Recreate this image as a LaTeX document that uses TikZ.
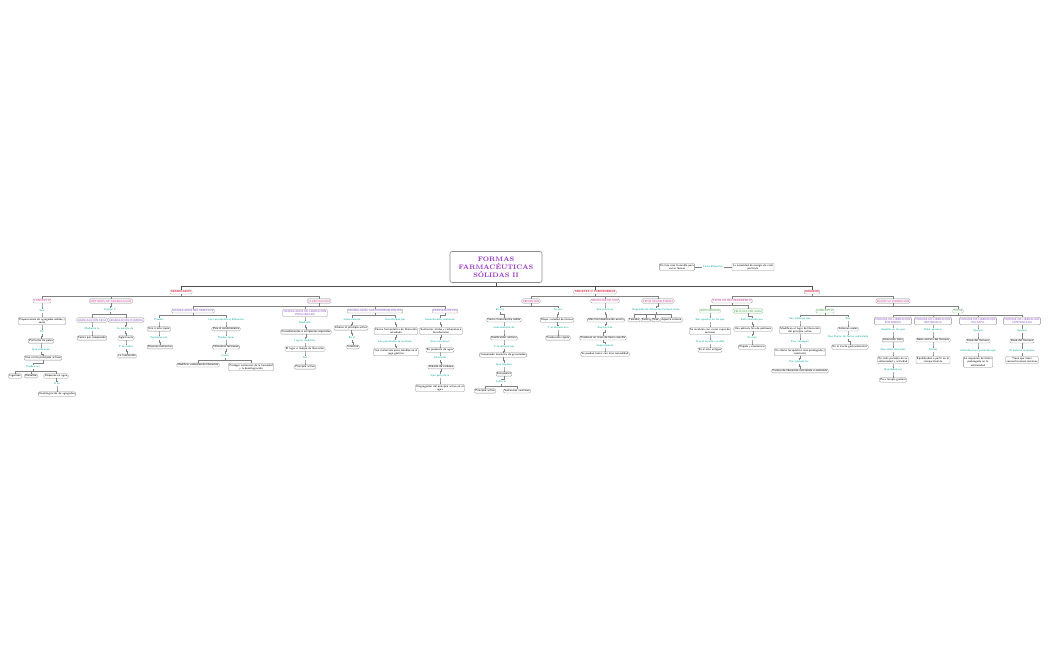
\documentclass[tikz,border=0pt]{standalone}
\usetikzlibrary{positioning}
\definecolor{titlepurple}{RGB}{150,50,190}
\definecolor{headred}{RGB}{225,30,60}
\definecolor{catpink}{RGB}{215,40,145}
\definecolor{subviolet}{RGB}{135,70,200}
\definecolor{linkteal}{RGB}{0,165,155}
\definecolor{typegreen}{RGB}{60,150,60}
\newcommand{\branch}[3][2.5]{\draw[conn] (#2.south) -- ++(0,#1) -| (#3.north);}
\begin{document}
\begin{tikzpicture}[x=1pt,y=-1pt,
	conn/.style={draw=black!50,line width=0.25pt},
	mainconn/.style={draw=black!70,line width=0.6pt},
	sm/.style={font=\sffamily\fontsize{2.8}{3.3}\selectfont},
	box/.style={sm,draw=black!45,rounded corners=1pt,line width=0.3pt,inner sep=0.9pt,fill=white,align=center},
	head/.style={box,text=headred,font=\sffamily\bfseries\fontsize{2.8}{3.3}\selectfont},
	cat/.style={box,text=catpink},
	sub/.style={box,text=subviolet},
	kind/.style={box,text=typegreen,draw=typegreen!60},
	lbl/.style={sm,text=linkteal,inner sep=0.6pt,align=center},
	title/.style={draw=black!45,rounded corners=2pt,line width=0.6pt,fill=white,minimum width=92pt,minimum height=31pt,align=center,text=titlepurple,font=\bfseries\fontsize{6.5}{8}\selectfont}]
	\useasboundingbox (0,0) rectangle (1050,650);

	\node[title] (title) at (496,267) {FORMAS\\FARMACÉUTICAS\\SÓLIDAS II};
	\node[box] (fases) at (677,267) {En fase más favorable para\\varias formas};
	\node[lbl] (lfases) at (713,267) {Fases diferentes};
	\node[box] (energia) at (753,267) {La necesidad de energía de cada\\partícula};
	\draw[conn] (fases) -- (lfases) -- (energia);

	\node[head] (gran) at (181,292) {GRANULADOS};
	\node[head] (tab) at (595,292) {TABLETAS O COMPRIMIDOS};
	\node[head] (grag) at (812,292) {GRAGEAS};
	\foreach \h in {gran,tab,grag} \draw[mainconn] (title.south) -- ++(0,3) -| (\h.north);

	\node[cat] (conc) at (42,301) {CONCEPTO};
	\node[cat] (metodos) at (111,301) {MÉTODOS DE GRANULACIÓN};
	\node[cat] (clasif) at (319,301) {CLASIFICACIÓN};
	\foreach \c in {conc,metodos,clasif} {\branch{gran}{\c}}

	\node[lbl] (lson) at (42,311) {Son};
	\node[box] (prep) at (42,321) {Preparaciones de agregados sólidos y\\secos};
	\node[lbl] (lde) at (42,332) {De};
	\node[box] (polvo) at (41,341) {Partículas de polvo};
	\node[lbl] (lcontienen) at (41,350) {Que contienen};
	\node[box] (activos) at (43,358) {Uno o más principios activos};
	\node[lbl] (lpueden) at (33,367) {Pueden ser};
	\node[box] (ingeridos) at (15,376) {Ingeridos};
	\node[box] (disueltos) at (31,376) {Disueltos};
	\node[box] (dispersos) at (56,376) {Dispersos en agua};
	\node[lbl] (loen) at (57,384) {O en};
	\node[box] (desint) at (57,394) {Desintegración de agregados};
	\branch{conc}{lson} \branch{lson}{prep} \branch{prep}{lde} \branch{lde}{polvo}
	\branch{polvo}{lcontienen} \branch{lcontienen}{activos} \branch{activos}{lpueden}
	\foreach \c in {ingeridos,disueltos,dispersos} {\branch{lpueden}{\c}}
	\branch{dispersos}{loen} \branch{loen}{desint}

	\node[lbl] (lexisten) at (110,310) {Existen 2};
	\node[sub] (seca) at (92,320) {GRANULACIÓN SECA};
	\node[sub] (humeda) at (126,320) {GRANULACIÓN HÚMEDA};
	\node[lbl] (lmediante) at (92,329) {Mediante la};
	\node[box] (compres) at (92,338) {Forma por compresión};
	\node[lbl] (lmezcla) at (125,329) {La mezcla de};
	\node[box] (aglut) at (126,338) {Aglutinante};
	\node[lbl] (lrealiza) at (126,347) {Y se realiza};
	\node[box] (tamiz) at (127,356) {La tamización};
	\branch{metodos}{lexisten} \branch{lexisten}{seca} \branch{lexisten}{humeda}
	\branch{seca}{lmediante} \branch{lmediante}{compres}
	\branch{humeda}{lmezcla} \branch{lmezcla}{aglut} \branch{aglut}{lrealiza} \branch{lrealiza}{tamiz}

	\node[sub] (recub) at (193,311) {GRANULADOS RECUBIERTOS};
	\node[sub] (prolong) at (305,313) {GRANULADOS DE LIBERACIÓN\\PROLONGADA};
	\node[sub] (gastro) at (375,311) {GRANULADOS GASTRORRESISTENTES};
	\node[sub] (eferv) at (445,311) {EFERVESCENTES};
	\foreach \c in {recub,prolong,gastro,eferv} {\branch{clasif}{\c}}

	\node[lbl] (lpuedenr) at (159,320) {Pueden};
	\node[box] (capas) at (159,329) {Una o más capas};
	\node[lbl] (lformadas) at (159,338) {Formadas por};
	\node[box] (diversas) at (160,347) {Diversas sustancias};
	\node[lbl] (lcaract) at (226,320) {Las características diferentes};
	\node[box] (pararec) at (226,329) {Para el recubrimiento};
	\node[lbl] (ltener) at (226,338) {Pueden tener};
	\node[box] (funciones) at (226,347) {Diferentes funciones};
	\node[lbl] (lcomo) at (225,356) {Como};
	\node[box] (modvel) at (198,365) {Modificar velocidad de liberación};
	\node[box] (proteger) at (251,367) {Proteger sustancias de la humedad\\y la desintegración};
	\branch{recub}{lpuedenr} \branch{recub}{lcaract}
	\branch{lpuedenr}{capas} \branch{capas}{lformadas} \branch{lformadas}{diversas}
	\branch{lcaract}{pararec} \branch{pararec}{ltener} \branch{ltener}{funciones} \branch{funciones}{lcomo}
	\branch{lcomo}{modvel} \branch{lcomo}{proteger}

	\node[lbl] (lmedp) at (305,323) {Mediante};
	\node[box] (proced) at (306,332) {Procedimientos o excipientes especiales};
	\node[lbl] (llogran) at (305,341) {Logran modificar};
	\node[box] (lugar) at (305,349) {El lugar o tiempo de liberación};
	\node[lbl] (ldel) at (305,358) {Del};
	\node[box] (pactivo) at (305,367) {Principio activo};
	\branch{prolong}{lmedp} \branch{lmedp}{proced} \branch{proced}{llogran}
	\branch{llogran}{lugar} \branch{lugar}{ldel} \branch{ldel}{pactivo}

	\node[lbl] (lgeneral) at (352,320) {Generalmente};
	\node[box] (liberan) at (351,328) {Liberan el principio activo};
	\node[lbl] (lenel) at (352,338) {En el};
	\node[box] (intestino) at (353,347) {Intestino};
	\node[lbl] (lconst) at (395,320) {Constituidos por};
	\node[box] (retard) at (396,331) {Forma farmacéutica de liberación\\retardada};
	\node[lbl] (lrecubren) at (395,342) {Los granulados se recubren};
	\node[box] (jugo) at (396,352) {Con materiales poco solubles en el\\jugo gástrico};
	\branch{gastro}{lgeneral} \branch{gastro}{lconst}
	\branch{lgeneral}{liberan} \branch{liberan}{lenel} \branch{lenel}{intestino}
	\branch{lconst}{retard} \branch{retard}{lrecubren} \branch{lrecubren}{jugo}

	\node[lbl] (lcontef) at (440,320) {Generalmente contienen};
	\node[box] (acidas) at (441,331) {Sustancias ácidas y carbonatos o\\bicarbonatos};
	\node[lbl] (lreacc) at (440,342) {Que reaccionan};
	\node[box] (agua) at (440,350) {En presencia de agua};
	\node[lbl] (llib) at (440,358) {Liberando};
	\node[box] (dioxido) at (441,367) {Dióxido de carbono};
	\node[lbl] (lpermite) at (440,376) {Que permite la};
	\node[box] (disgreg) at (440,388) {Disgregación del principio activo en el\\agua};
	\branch{eferv}{lcontef} \branch{lcontef}{acidas} \branch{acidas}{lreacc} \branch{lreacc}{agua}
	\branch{agua}{llib} \branch{llib}{dioxido} \branch{dioxido}{lpermite} \branch{lpermite}{disgreg}

	\node[cat] (defin) at (531,301) {DEFINICIÓN};
	\node[cat] (ventajas) at (605,301) {VENTAJAS DE USO};
	\node[cat] (tipos) at (658,301) {TIPOS SEGÚN FORMA};
	\foreach \c in {defin,ventajas,tipos} {\branch{tab}{\c}}

	\node[lbl] (lesuna) at (500,310) {Es una};
	\node[box] (solida) at (504,320) {Forma farmacéutica sólida};
	\node[lbl] (lgende) at (504,328) {Generalmente de};
	\node[box] (unitaria) at (504,338) {Dosificación unitaria};
	\node[lbl] (lobtiene) at (504,347) {Y se obtiene por};
	\node[box] (mecanica) at (503,355) {Compresión mecánica de granulados};
	\node[lbl] (lrequiere) at (504,365) {Que requiere};
	\node[box] (excip) at (504,374) {Excipientes};
	\node[lbl] (ljunto) at (501,382) {Junto al};
	\node[box] (pact2) at (485,391) {Principio activo};
	\node[box] (auxil) at (517,391) {Sustancias auxiliares};
	\node[lbl] (lseusa) at (558,310) {Se usa};
	\node[box] (variedad) at (557,320) {Mayor variedad de formas};
	\node[lbl] (lobtuna) at (558,328) {Y se obtiene una};
	\node[box] (rapida) at (558,338) {Producción rápida};
	\branch{defin}{lesuna} \branch{defin}{lseusa}
	\branch{lesuna}{solida} \branch{solida}{lgende} \branch{lgende}{unitaria} \branch{unitaria}{lobtiene}
	\branch{lobtiene}{mecanica} \branch{mecanica}{lrequiere} \branch{lrequiere}{excip} \branch{excip}{ljunto}
	\branch{ljunto}{pact2} \branch{ljunto}{auxil}
	\branch{lseusa}{variedad} \branch{variedad}{lobtuna} \branch{lobtuna}{rapida}

	\node[lbl] (lpract) at (605,310) {Son prácticas};
	\node[box] (dosis) at (606,320) {Más fácil dosificación exacta};
	\node[lbl] (lbaratas) at (605,328) {Son baratas};
	\node[box] (masa) at (603,338) {Producen en masa de forma sencilla};
	\node[lbl] (lgeneral2) at (605,346) {Generalmente};
	\node[box] (comodidad) at (605,354) {Se pueden tomar con más comodidad};
	\branch{ventajas}{lpract} \branch{lpract}{dosis} \branch{dosis}{lbaratas} \branch{lbaratas}{masa}
	\branch{masa}{lgeneral2} \branch{lgeneral2}{comodidad}

	\node[lbl] (ldependen) at (656,310) {Dependen de diferentes factores como};
	\node[box] (tamano) at (634,320) {Tamaño};
	\node[box,right=0.8pt of tamano] (forma) {Forma};
	\node[box,right=0.8pt of forma] (peso) {Peso};
	\node[box,right=0.8pt of peso] (aspecto) {Aspecto externo};
	\branch{tipos}{ldependen}
	\foreach \c in {tamano,forma,peso,aspecto} {\branch{ldependen}{\c}}

	\node[cat] (trecub) at (732,301) {TIPOS DE RECUBRIMIENTO};
	\node[cat] (tlib) at (893,301) {SEGÚN SU LIBERACIÓN};
	\branch{grag}{trecub} \branch{grag}{tlib}

	\node[kind] (azucar) at (710,311) {AZUCARADAS};
	\node[kind] (pelic) at (748,311) {PELÍCULA DELGADA};
	\branch{trecub}{azucar} \branch{trecub}{pelic}
	\node[lbl] (laquellas) at (710,320) {Son aquellas en las que};
	\node[box] (sacarosa) at (710,331) {Se recubren con varias capas de\\sacarosa};
	\node[lbl] (ltras) at (710,342) {Tras el secado y pulido};
	\node[box] (antiguo) at (710,350) {Es el más antiguo};
	\node[lbl] (lformada) at (752,320) {Está formada por};
	\node[box] (polimero) at (753,329) {Una película fina de polímero};
	\node[lbl] (lesmas) at (752,338) {Es más};
	\node[box] (economico) at (752,347) {Rápido y económico};
	\branch{azucar}{laquellas} \branch{laquellas}{sacarosa} \branch{sacarosa}{ltras} \branch{ltras}{antiguo}
	\branch{pelic}{lformada} \branch{lformada}{polimero} \branch{polimero}{lesmas} \branch{lesmas}{economico}

	\node[kind] (conc2) at (825,311) {CONCEPTO};
	\node[kind] (tipos2) at (958,311) {TIPOS};
	\branch{tlib}{conc2} \branch{tlib}{tipos2}
	\node[lbl] (lsistemas) at (800,319) {Son sistemas que};
	\node[box] (modifican) at (800,330) {Modifican el lugar de liberación\\del principio activo};
	\node[lbl] (lconseguir) at (800,342) {Para conseguir};
	\node[box] (efecto) at (800,352) {Un efecto terapéutico más prolongado y\\constante};
	\node[lbl] (lejemplo) at (799,362) {Por ejemplo las};
	\node[box] (sostenida) at (800,371) {Formas de liberación controlada o sostenida};
	\node[lbl] (lson2) at (848,319) {Son};
	\node[box] (orales) at (848,329) {Sistemas orales};
	\node[lbl] (lcontrol) at (848,337) {Que liberan de forma controlada};
	\node[box] (tracto) at (850,347) {En el tracto gastrointestinal};
	\branch{conc2}{lsistemas} \branch{conc2}{lson2}
	\branch{lsistemas}{modifican} \branch{modifican}{lconseguir} \branch{lconseguir}{efecto}
	\branch{efecto}{lejemplo} \branch{lejemplo}{sostenida}
	\branch{lson2}{orales} \branch{orales}{lcontrol} \branch{lcontrol}{tracto}

	\node[sub] (sost) at (893,321) {FORMAS DE LIBERACIÓN\\SOSTENIDA};
	\node[sub] (retd) at (933,321) {FORMAS DE LIBERACIÓN\\RETARDADA};
	\node[sub] (puls) at (978,321) {FORMAS DE LIBERACIÓN\\PULSÁTIL};
	\node[sub] (contr) at (1022,321) {FORMAS DE LIBERACIÓN\\CONTROLADA};
	\foreach \c in {sost,retd,puls,contr} {\branch[1.8]{tipos2}{\c}}

	\node[lbl] (laq2) at (893,330) {Aquellas en las que};
	\node[box] (lenta) at (893,340) {Liberación lenta};
	\node[lbl] (lindic) at (893,350) {Que están indicadas};
	\node[box] (paciente) at (893,360) {En cada paciente en su\\enfermedad y actividad};
	\node[lbl] (ldeben) at (893,370) {Que deben ser};
	\node[box] (gradual) at (893,380) {Para terapia gradual};
	\branch{sost}{laq2} \branch{laq2}{lenta} \branch{lenta}{lindic} \branch{lindic}{paciente}
	\branch{paciente}{ldeben} \branch{ldeben}{gradual}

	\node[lbl] (ldebe) at (933,330) {Debe aparecer};
	\node[box] (dunit) at (933,340) {Dosis unitaria del fármaco};
	\node[lbl] (ldonde) at (933,350) {Donde};
	\node[box] (equil) at (933,360) {Equilibrados a partir en el\\compartimento};
	\branch{retd}{ldebe} \branch{ldebe}{dunit} \branch{dunit}{ldonde} \branch{ldonde}{equil}

	\node[lbl] (lap3) at (978,331) {Aparece};
	\node[box] (dtotal3) at (978,341) {Dosis del fármaco};
	\node[lbl] (lindic3) at (978,351) {Indicados para pacientes que};
	\node[box] (requieran) at (978,362) {Lo requieran de forma\\prolongada en la\\enfermedad};
	\branch{puls}{lap3} \branch{lap3}{dtotal3} \branch{dtotal3}{lindic3} \branch{lindic3}{requieran}

	\node[lbl] (lap4) at (1022,331) {Aparece};
	\node[box] (dtotal4) at (1022,341) {Dosis del fármaco};
	\node[lbl] (lmant) at (1022,351) {El sistema mantiene};
	\node[box] (minimas) at (1022,360) {Tiene que tener\\concentraciones mínimas};
	\branch{contr}{lap4} \branch{lap4}{dtotal4} \branch{dtotal4}{lmant} \branch{lmant}{minimas}
\end{tikzpicture}
\end{document}
